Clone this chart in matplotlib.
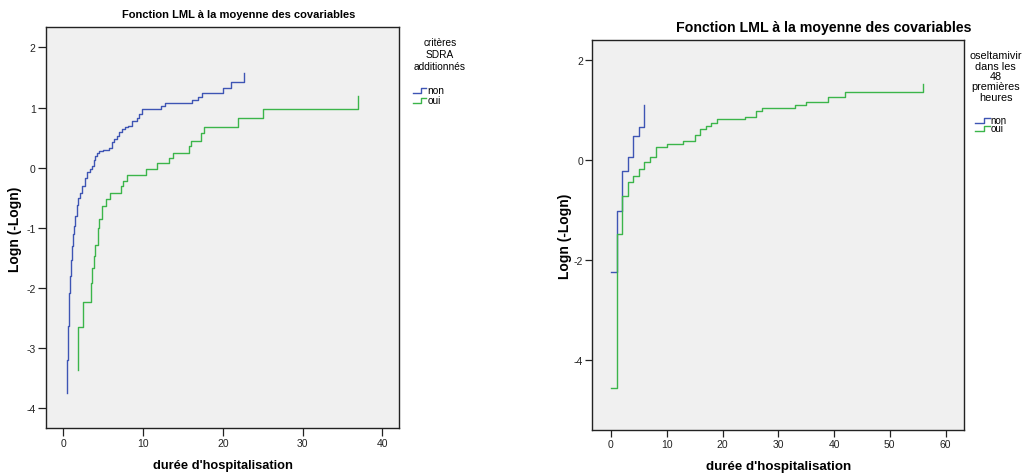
import matplotlib
matplotlib.use('Agg')
import matplotlib.pyplot as plt
from matplotlib.lines import Line2D
from matplotlib.legend_handler import HandlerBase

plt.rcParams['font.family'] = ['Liberation Sans', 'DejaVu Sans']
plt.rcParams['axes.unicode_minus'] = False

# ---------------- data ----------------
blue_left_t = [0.43, 0.45, 0.50, 0.55, 0.63, 0.70, 0.75, 0.85, 0.97, 1.10, 1.20, 1.34, 1.50, 1.70,
               1.90, 2.10, 2.40, 2.72, 3.00, 3.30, 3.56, 3.80, 4.00, 4.19, 4.50, 5.02, 5.77, 6.07,
               6.40, 6.70, 7.00, 7.33, 7.70, 8.08, 8.58, 9.28, 9.50, 9.84, 12.30, 12.76, 16.20,
               16.90, 17.40, 20.00, 21.00, 22.70]
blue_left_v = [-3.75, -3.50, -3.20, -2.90, -2.64, -2.35, -2.08, -1.80, -1.53, -1.30, -1.10, -0.97,
               -0.80, -0.62, -0.50, -0.42, -0.30, -0.17, -0.08, -0.02, 0.03, 0.12, 0.19, 0.25, 0.27,
               0.29, 0.32, 0.42, 0.48, 0.53, 0.60, 0.65, 0.67, 0.69, 0.78, 0.83, 0.90, 0.97, 1.02,
               1.07, 1.12, 1.17, 1.25, 1.32, 1.43, 1.57]

green_left_t = [1.80, 1.80, 2.50, 3.52, 3.64, 3.85, 4.00, 4.29, 4.46, 4.83, 5.36, 5.84, 7.24, 7.53,
                8.03, 10.40, 11.80, 13.26, 13.80, 15.77, 15.98, 17.28, 17.65, 21.90, 25.10, 36.90]
green_left_v = [-3.36, -2.65, -2.23, -1.92, -1.67, -1.47, -1.29, -1.00, -0.86, -0.64, -0.52, -0.42,
                -0.31, -0.22, -0.12, -0.03, 0.07, 0.16, 0.25, 0.36, 0.45, 0.57, 0.68, 0.82, 0.98, 1.20]

blue_right_t = [0, 1, 2, 3, 4, 5, 6]
blue_right_v = [-2.25, -1.03, -0.22, 0.06, 0.48, 0.65, 1.09]

green_right_t = [0, 1, 2, 3, 4, 5, 6, 7, 8, 10, 13, 15, 16, 17, 18, 19, 24, 26, 27, 33, 35, 39, 42, 56]
green_right_v = [-4.55, -1.49, -0.72, -0.45, -0.33, -0.19, -0.04, 0.05, 0.26, 0.31, 0.38, 0.50,
                 0.61, 0.68, 0.73, 0.82, 0.86, 0.97, 1.03, 1.09, 1.16, 1.25, 1.36, 1.51]

series_labels = ['non', 'oui']
title_text = "Fonction LML à la moyenne des covariables"
xlabel_text = "durée d'hospitalisation"
ylabel_text = "Logn (-Logn)"
legend_left_title = "critères\nSDRA\nadditionnés"
legend_right_title = "oseltamivir\ndans les\n48\npremières\nheures"
left_xticks = [0, 10, 20, 30, 40]
left_yticks = [-4, -3, -2, -1, 0, 1, 2]
right_xticks = [0, 10, 20, 30, 40, 50, 60]
right_yticks = [-4, -2, 0, 2]

BLUE = '#3e55b4'
GREEN = '#3bb54a'
BG = '#f0f0f0'

W, H = 1029, 477
fig = plt.figure(figsize=(W / 100, H / 100), dpi=100)


def fx(px):
    return px / W


def fy(py):
    return 1 - py / H


class StepHandler(HandlerBase):
    def create_artists(self, legend, orig_handle, xdescent, ydescent, width, height, fontsize, trans):
        x0 = -xdescent
        y0 = -ydescent
        xs = [x0, x0 + 0.6 * width, x0 + 0.6 * width, x0 + width]
        ys = [y0 + 0.05 * height, y0 + 0.05 * height, y0 + 0.75 * height, y0 + 0.75 * height]
        ln = Line2D(xs, ys, color=orig_handle.get_color(), lw=1.0)
        ln.set_transform(trans)
        return [ln]


def style_axes(ax, xlim, ylim, xticks, yticks, ticklen):
    ax.set_facecolor(BG)
    ax.set_xlim(*xlim)
    ax.set_ylim(*ylim)
    ax.set_xticks(xticks)
    ax.set_yticks(yticks)
    for s in ax.spines.values():
        s.set_linewidth(1.0)
        s.set_color('#222222')
    ax.tick_params(direction='out', length=ticklen, width=0.9, labelsize=7.5, colors='#222222', pad=1.5)


# ---------- left panel ----------
ax1 = fig.add_axes([fx(46), fy(429), fx(399 - 46), (429 - 28) / H])
l1, = ax1.step(blue_left_t, blue_left_v, where='post', color=BLUE, lw=1.0, label=series_labels[0])
l2, = ax1.step(green_left_t, green_left_v, where='post', color=GREEN, lw=1.0, label=series_labels[1])
style_axes(ax1, (-2.17, 42.1), (-4.33, 2.34), left_xticks, left_yticks, 6)

fig.text(fx(239), fy(15.5), title_text, fontsize=8, fontweight='bold', ha='center', va='center')
fig.text(fx(223), fy(466), xlabel_text, fontsize=9.3, fontweight='bold', ha='center', va='center')
fig.text(fx(15), fy(229), ylabel_text, fontsize=10, fontweight='bold', ha='center', va='center',
         rotation=90)
fig.text(fx(440), fy(55), legend_left_title, fontsize=7.3, ha='center', va='center',
         multialignment='center', linespacing=1.2)
ax1.legend(handles=[l1, l2], labels=series_labels, handler_map={Line2D: StepHandler()},
           loc='upper left', bbox_to_anchor=(fx(413), fy(86.5)), bbox_transform=fig.transFigure,
           frameon=False, fontsize=7.3, borderpad=0, borderaxespad=0, handlelength=1.3,
           handletextpad=0.1, labelspacing=0.0)

# ---------- right panel ----------
ax2 = fig.add_axes([fx(592.3), fy(430.7), fx(964 - 592.3), (430.7 - 40.7) / H])
r1, = ax2.step(blue_right_t, blue_right_v, where='post', color=BLUE, lw=1.0, label=series_labels[0])
r2, = ax2.step(green_right_t, green_right_v, where='post', color=GREEN, lw=1.0, label=series_labels[1])
style_axes(ax2, (-3.35, 63.3), (-5.39, 2.4), right_xticks, right_yticks, 5)

fig.text(fx(824), fy(28), title_text, fontsize=10.2, fontweight='bold', ha='center', va='center')
fig.text(fx(779), fy(467), xlabel_text, fontsize=9.6, fontweight='bold', ha='center', va='center')
fig.text(fx(565), fy(236), ylabel_text, fontsize=10, fontweight='bold', ha='center', va='center',
         rotation=90)
fig.text(fx(995.5), fy(77), legend_right_title, fontsize=7.8, ha='center', va='center',
         multialignment='center', linespacing=1.05)
ax2.legend(handles=[r1, r2], labels=series_labels, handler_map={Line2D: StepHandler()},
           loc='upper left', bbox_to_anchor=(fx(975), fy(116)), bbox_transform=fig.transFigure,
           frameon=False, fontsize=7, borderpad=0, borderaxespad=0, handlelength=1.5,
           handletextpad=0.1, labelspacing=-0.2)

fig.savefig('out.png', dpi=100, facecolor='white')
